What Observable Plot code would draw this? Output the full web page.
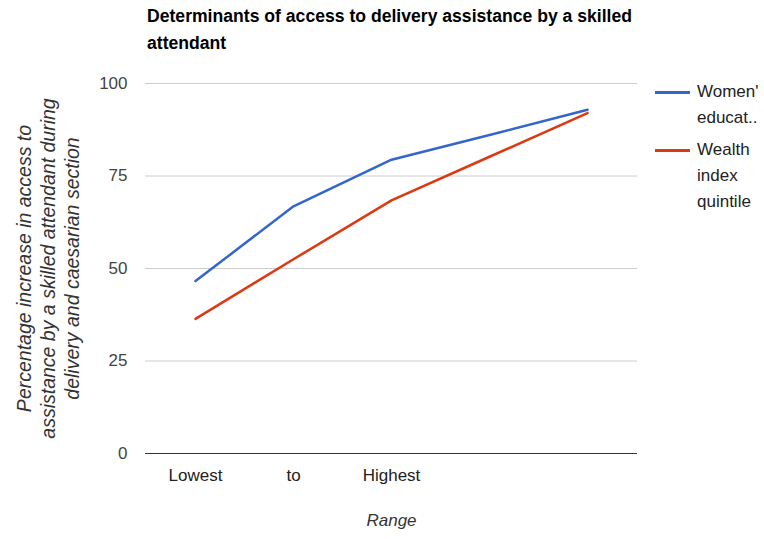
<!DOCTYPE html>
<html>
<head>
<meta charset="utf-8">
<script src="https://cdn.jsdelivr.net/npm/d3@7"></script>
<script src="https://cdn.jsdelivr.net/npm/@observablehq/plot@0.6"></script>
<style>
  html, body { margin: 0; padding: 0; background: #fff; }
  #wrap { position: relative; width: 764px; height: 539px; font-family: "Liberation Sans", Arial, sans-serif; }
  #title { position: absolute; left: 147px; top: 3px; width: 500px; font-weight: bold; font-size: 17.6px; line-height: 27px; color: #000; }
  .leg { position: absolute; left: 655px; font-size: 17px; line-height: 26px; color: #222; }
  .leg .sw { position: absolute; left: 0; width: 35px; height: 3px; top: 12px; }
  .leg .tx { position: absolute; left: 42px; white-space: nowrap; }
</style>
</head>
<body>
<div id="wrap">
  <div id="title">Determinants of access to delivery assistance by a skilled attendant</div>
</div>
<script>
const categories = ["c1", "c2", "c3", "c4", "c5"];
const tickLabels = ["Lowest", "to", "Highest", "", ""];
const seriesNames = ["Women' educat..", "Wealth index quintile"];
const womenEducation = [46.6, 66.8, 79.4, 86.1, 92.9];
const wealthIndex = [36.4, 52.5, 68.4, 80.2, 92.0];
const yTicks = [0, 25, 50, 75, 100];
const colors = ["#3366cc", "#dc3912"];
const yLabel = "Percentage increase in access to\nassistance by a skilled attendant during\ndelivery and caesarian section";
const xLabel = "Range";

const data = [
  ...categories.map((c, i) => ({cat: c, value: womenEducation[i], series: seriesNames[0]})),
  ...categories.map((c, i) => ({cat: c, value: wealthIndex[i], series: seriesNames[1]}))
];

const chart = Plot.plot({
  width: 764,
  height: 539,
  marginLeft: 145,
  marginRight: 127,
  marginTop: 83,
  marginBottom: 86,
  style: {fontFamily: "'Liberation Sans', Arial, sans-serif", fontSize: "17px", background: "transparent"},
  x: {type: "point", domain: categories, padding: 0.5},
  y: {domain: [0, 100]},
  color: {domain: seriesNames, range: colors},
  marks: [
    Plot.gridY(yTicks, {stroke: "#cccccc", strokeOpacity: 1, strokeWidth: 1}),
    Plot.ruleY([0], {stroke: "#333333", strokeWidth: 1}),
    Plot.axisY(yTicks, {tickSize: 0, tickPadding: 18, fill: "#444", fontSize: 17, label: null}),
    Plot.axisX(categories, {tickSize: 0, tickPadding: 15, fill: "#222", fontSize: 17, label: null,
      tickFormat: (d) => tickLabels[categories.indexOf(d)]}),
    Plot.lineY(data, {x: "cat", y: "value", stroke: "series", strokeWidth: 2.5}),
    Plot.text([yLabel], {frameAnchor: "left", rotate: -90, dx: -98, fontStyle: "italic", fontSize: 19.5,
      fill: "#333", textAnchor: "middle", lineAnchor: "middle", lineHeight: 1.23}),
    Plot.text([xLabel], {frameAnchor: "bottom", dy: 72, fontStyle: "italic", fontSize: 17, fill: "#333"})
  ]
});
chart.style.position = "absolute";
chart.style.left = "0";
chart.style.top = "0";
const wrap = document.getElementById("wrap");
wrap.insertBefore(chart, wrap.firstChild);

// legend
const legTops = [79, 137];
const legLines = [["Women'", "educat.."], ["Wealth", "index", "quintile"]];
seriesNames.forEach((s, i) => {
  const d = document.createElement("div");
  d.className = "leg";
  d.style.top = legTops[i] + "px";
  d.innerHTML = `<div class="sw" style="background:${colors[i]}"></div><div class="tx">${legLines[i].join("<br>")}</div>`;
  wrap.appendChild(d);
});
</script>
</body>
</html>
